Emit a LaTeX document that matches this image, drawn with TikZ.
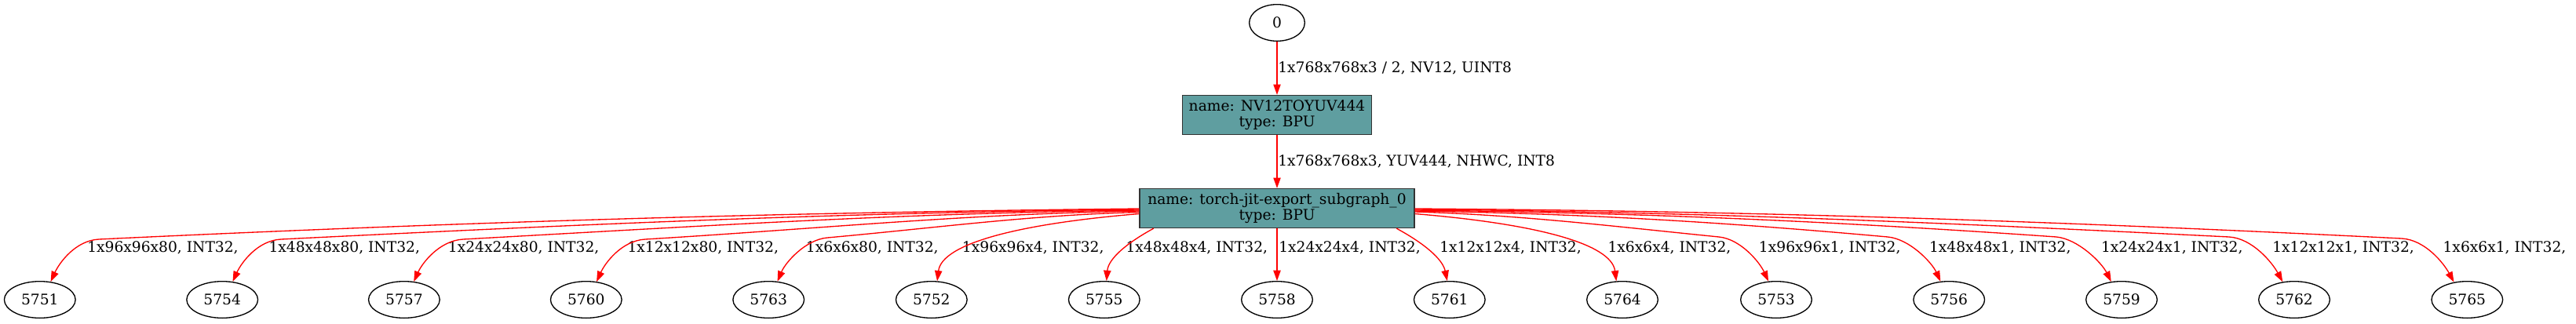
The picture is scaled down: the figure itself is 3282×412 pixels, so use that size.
\documentclass[tikz,border=0pt]{standalone}
\usepackage{fontspec}
\setmainfont{DejaVu Serif}
\usetikzlibrary{arrows.meta,calc,shapes.geometric}
\definecolor{cadet}{RGB}{95,158,160}
\begin{document}
\begin{tikzpicture}[x=0.75pt,y=-0.75pt,
  font=\fontsize{14}{14.5}\selectfont,
  leaf/.style={draw=black,line width=1pt,ellipse,minimum width=68pt,minimum height=35pt,inner sep=0pt},
  op/.style={draw=black!80,fill=cadet,line width=1pt,rectangle,minimum height=37.5pt,inner sep=0pt,align=center},
  edge/.style={draw=red,line width=1pt,-{Triangle[length=10pt,width=7pt]}},
  elabel/.style={anchor=base west,inner sep=0pt}]
\useasboundingbox (0,0) rectangle (3282,412);

% top part
\node[leaf,minimum width=53pt] (n0) at (1627,29) {0};
\node[op,minimum width=181pt] (nv12) at (1627,146.5) {name: NV12TOYUV444\\type: BPU};
\node[op,minimum width=262.5pt] (sub) at (1627,265.5) {name: torch-jit-export\_subgraph\_0\\type: BPU};

\draw[edge] (n0.south) -- (nv12.north);
\draw[edge] (nv12.south) -- (sub.north);
\node[elabel] (la) at (1628,92.7) {1x768x768x3 / 2, NV12, UINT8};
\node[elabel] (lb) at (1628,211.7) {1x768x768x3, YUV444, NHWC, INT8};

% bottom nodes
\node[leaf] (n5751) at (50.8,382) {5751};
\node[leaf] (n5754) at (283.2,382) {5754};
\node[leaf] (n5757) at (514.9,382) {5757};
\node[leaf] (n5760) at (746.8,382) {5760};
\node[leaf] (n5763) at (979.2,382) {5763};
\node[leaf] (n5752) at (1186.8,382) {5752};
\node[leaf] (n5755) at (1406.8,382) {5755};
\node[leaf] (n5758) at (1627,382) {5758};
\node[leaf] (n5761) at (1846.8,382) {5761};
\node[leaf] (n5764) at (2067,382) {5764};
\node[leaf] (n5753) at (2263,382) {5753};
\node[leaf] (n5756) at (2483.2,382) {5756};
\node[leaf] (n5759) at (2703,382) {5759};
\node[leaf] (n5762) at (2923,382) {5762};
\node[leaf] (n5765) at (3143.3,382) {5765};

% edge labels
\node[elabel] (l5751) at (111,321) {1x96x96x80, INT32,};
\node[elabel] (l5754) at (342.3,321) {1x48x48x80, INT32,};
\node[elabel] (l5757) at (570.7,321) {1x24x24x80, INT32,};
\node[elabel] (l5760) at (799.3,321) {1x12x12x80, INT32,};
\node[elabel] (l5763) at (1026.7,321) {1x6x6x80, INT32,};
\node[elabel] (l5752) at (1225.7,321) {1x96x96x4, INT32,};
\node[elabel] (l5755) at (1434.3,321) {1x48x48x4, INT32,};
\node[elabel] (l5758) at (1629,321) {1x24x24x4, INT32,};
\node[elabel] (l5761) at (1834,321) {1x12x12x4, INT32,};
\node[elabel] (l5764) at (2048.3,321) {1x6x6x4, INT32,};
\node[elabel] (l5753) at (2240.7,321) {1x96x96x1, INT32,};
\node[elabel] (l5756) at (2457.7,321) {1x48x48x1, INT32,};
\node[elabel] (l5759) at (2676.7,321) {1x24x24x1, INT32,};
\node[elabel] (l5762) at (2895,321) {1x12x12x1, INT32,};
\node[elabel] (l5765) at (3112.3,321) {1x6x6x1, INT32,};

% left edges
\draw[edge] ($(sub.west)+(0,0.5)$) .. controls (987,271) and (589,283) .. (126,305)
  .. controls +(-30,1.5) and +(11,-24) .. (n5751.59);
\draw[edge] ($(sub.west)+(0,1.5)$) .. controls (1068.6,271) and (741,286) .. (358,305)
  .. controls +(-30,1.5) and +(11,-24) .. (n5754.60);
\draw[edge] ($(sub.west)+(0,2.5)$) .. controls (1150,271.5) and (892,288.4) .. (590,305)
  .. controls +(-30,1.7) and +(11,-24) .. (n5757.62);
\draw[edge] ($(sub.west)+(0,3.5)$) .. controls (1231.6,272.5) and (1042,291.8) .. (822,305)
  .. controls +(-30,1.8) and +(11,-24) .. (n5760.60);
\draw[edge] ($(sub.west)+(0,5)$) .. controls (1312.6,274) and (1193,290.5) .. (1054,303)
  .. controls +(-28,2.5) and +(10,-24) .. (n5763.64);
\draw[edge] ($(sub.west)+(0,7)$) .. controls (1300,285) and (1200,310) .. (n5752.73);
\draw[edge] ($(sub.south west)+(18.4,0)$) .. controls (1435,310) and (1412,330) .. (n5755.83);

% middle
\draw[edge] (sub.south) -- (n5758.north);

% right edges
\draw[edge] ($(sub.south east)+(-23.4,0)$) .. controls (1814,310) and (1838,330) .. (n5761.97);
\draw[edge] ($(sub.east)+(0,7)$) .. controls (1954,285) and (2053,310) .. (n5764.108);
\draw[edge] ($(sub.east)+(0,4.5)$) .. controls (1938,274) and (2054,288.4) .. (2190,302)
  .. controls +(28,2.8) and +(-11,-24) .. (n5753.113);
\draw[edge] ($(sub.east)+(0,3.5)$) .. controls (2013,272) and (2194,283) .. (2405,302)
  .. controls +(28,2.5) and +(-11,-24) .. (n5756.115);
\draw[edge] ($(sub.east)+(0,2.5)$) .. controls (2088,271) and (2334,282) .. (2620,302)
  .. controls +(28,2.8) and +(-12,-24) .. (n5759.120);
\draw[edge] ($(sub.east)+(0,1.5)$) .. controls (2165,270) and (2477,284) .. (2840,302)
  .. controls +(30,1.8) and +(-13,-24) .. (n5762.123);
\draw[edge] ($(sub.east)+(0,0.5)$) .. controls (2242,269) and (2620,282) .. (3060,304)
  .. controls +(30,1.8) and +(-13,-24) .. (n5765.127);
\end{tikzpicture}
\end{document}
